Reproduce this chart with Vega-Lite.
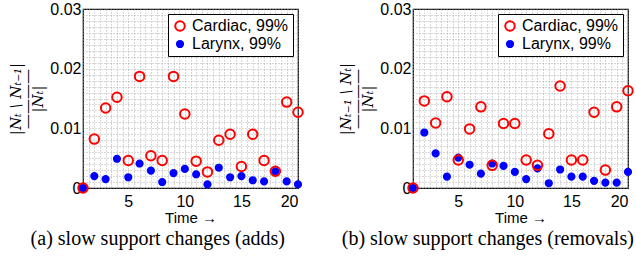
{
  "$schema": "https://vega.github.io/schema/vega-lite/v6.json",
  "padding": {"left": 8, "top": 0, "right": 0, "bottom": 0},
  "spacing": 30,
  "config": {
    "view": {"stroke": "black", "strokeWidth": 1.2},
    "font": "Liberation Sans",
    "axis": {
      "labelFont": "Liberation Sans", "labelFontSize": 16, "labelColor": "black",
      "titleFont": "Liberation Sans", "titleFontWeight": "normal", "titleColor": "black",
      "domain": false, "ticks": false,
      "grid": true, "gridColor": "#9a9a9a", "gridDash": [1, 2], "gridWidth": 0.8
    },
    "legend": {
      "orient": "top-right", "offset": 5, "strokeColor": "black", "fillColor": "white",
      "padding": 4, "labelFont": "Liberation Sans", "labelFontSize": 16, "labelColor": "black",
      "rowPadding": 1, "symbolStrokeWidth": 2, "title": null
    },
    "title": {"font": "Liberation Serif", "fontSize": 20, "fontWeight": "normal", "orient": "bottom", "anchor": "middle", "frame": "bounds", "offset": 4, "color": "black"}
  },
  "datasets": {
    "adds": [
      {"t": 1, "s": "Cardiac, 99%", "v": 0.0}, {"t": 2, "s": "Cardiac, 99%", "v": 0.0082}, {"t": 3, "s": "Cardiac, 99%", "v": 0.0134}, {"t": 4, "s": "Cardiac, 99%", "v": 0.0152}, {"t": 5, "s": "Cardiac, 99%", "v": 0.0046},
      {"t": 6, "s": "Cardiac, 99%", "v": 0.0187}, {"t": 7, "s": "Cardiac, 99%", "v": 0.0054}, {"t": 8, "s": "Cardiac, 99%", "v": 0.0046}, {"t": 9, "s": "Cardiac, 99%", "v": 0.0187}, {"t": 10, "s": "Cardiac, 99%", "v": 0.0124},
      {"t": 11, "s": "Cardiac, 99%", "v": 0.0045}, {"t": 12, "s": "Cardiac, 99%", "v": 0.0027}, {"t": 13, "s": "Cardiac, 99%", "v": 0.0080}, {"t": 14, "s": "Cardiac, 99%", "v": 0.0090}, {"t": 15, "s": "Cardiac, 99%", "v": 0.0036},
      {"t": 16, "s": "Cardiac, 99%", "v": 0.0090}, {"t": 17, "s": "Cardiac, 99%", "v": 0.0046}, {"t": 18, "s": "Cardiac, 99%", "v": 0.0028}, {"t": 19, "s": "Cardiac, 99%", "v": 0.0144}, {"t": 20, "s": "Cardiac, 99%", "v": 0.0127},
      {"t": 1, "s": "Larynx, 99%", "v": 0.0}, {"t": 2, "s": "Larynx, 99%", "v": 0.0020}, {"t": 3, "s": "Larynx, 99%", "v": 0.0015}, {"t": 4, "s": "Larynx, 99%", "v": 0.0049}, {"t": 5, "s": "Larynx, 99%", "v": 0.0018},
      {"t": 6, "s": "Larynx, 99%", "v": 0.0041}, {"t": 7, "s": "Larynx, 99%", "v": 0.0029}, {"t": 8, "s": "Larynx, 99%", "v": 0.0010}, {"t": 9, "s": "Larynx, 99%", "v": 0.0025}, {"t": 10, "s": "Larynx, 99%", "v": 0.0032},
      {"t": 11, "s": "Larynx, 99%", "v": 0.0023}, {"t": 12, "s": "Larynx, 99%", "v": 0.0006}, {"t": 13, "s": "Larynx, 99%", "v": 0.0034}, {"t": 14, "s": "Larynx, 99%", "v": 0.0018}, {"t": 15, "s": "Larynx, 99%", "v": 0.0020},
      {"t": 16, "s": "Larynx, 99%", "v": 0.0013}, {"t": 17, "s": "Larynx, 99%", "v": 0.0011}, {"t": 18, "s": "Larynx, 99%", "v": 0.0028}, {"t": 19, "s": "Larynx, 99%", "v": 0.0011}, {"t": 20, "s": "Larynx, 99%", "v": 0.0006}
    ],
    "removals": [
      {"t": 1, "s": "Cardiac, 99%", "v": 0.0}, {"t": 2, "s": "Cardiac, 99%", "v": 0.0146}, {"t": 3, "s": "Cardiac, 99%", "v": 0.0109}, {"t": 4, "s": "Cardiac, 99%", "v": 0.0153}, {"t": 5, "s": "Cardiac, 99%", "v": 0.0047},
      {"t": 6, "s": "Cardiac, 99%", "v": 0.0099}, {"t": 7, "s": "Cardiac, 99%", "v": 0.0136}, {"t": 8, "s": "Cardiac, 99%", "v": 0.0038}, {"t": 9, "s": "Cardiac, 99%", "v": 0.0108}, {"t": 10, "s": "Cardiac, 99%", "v": 0.0108},
      {"t": 11, "s": "Cardiac, 99%", "v": 0.0047}, {"t": 12, "s": "Cardiac, 99%", "v": 0.0038}, {"t": 13, "s": "Cardiac, 99%", "v": 0.0091}, {"t": 14, "s": "Cardiac, 99%", "v": 0.0171}, {"t": 15, "s": "Cardiac, 99%", "v": 0.0047},
      {"t": 16, "s": "Cardiac, 99%", "v": 0.0047}, {"t": 17, "s": "Cardiac, 99%", "v": 0.0127}, {"t": 18, "s": "Cardiac, 99%", "v": 0.0030}, {"t": 19, "s": "Cardiac, 99%", "v": 0.0136}, {"t": 20, "s": "Cardiac, 99%", "v": 0.0163},
      {"t": 1, "s": "Larynx, 99%", "v": 0.0}, {"t": 2, "s": "Larynx, 99%", "v": 0.0093}, {"t": 3, "s": "Larynx, 99%", "v": 0.0058}, {"t": 4, "s": "Larynx, 99%", "v": 0.0019}, {"t": 5, "s": "Larynx, 99%", "v": 0.0051},
      {"t": 6, "s": "Larynx, 99%", "v": 0.0039}, {"t": 7, "s": "Larynx, 99%", "v": 0.0024}, {"t": 8, "s": "Larynx, 99%", "v": 0.0041}, {"t": 9, "s": "Larynx, 99%", "v": 0.0037}, {"t": 10, "s": "Larynx, 99%", "v": 0.0027},
      {"t": 11, "s": "Larynx, 99%", "v": 0.0015}, {"t": 12, "s": "Larynx, 99%", "v": 0.0033}, {"t": 13, "s": "Larynx, 99%", "v": 0.0008}, {"t": 14, "s": "Larynx, 99%", "v": 0.0031}, {"t": 15, "s": "Larynx, 99%", "v": 0.0019},
      {"t": 16, "s": "Larynx, 99%", "v": 0.0019}, {"t": 17, "s": "Larynx, 99%", "v": 0.0012}, {"t": 18, "s": "Larynx, 99%", "v": 0.0009}, {"t": 19, "s": "Larynx, 99%", "v": 0.0009}, {"t": 20, "s": "Larynx, 99%", "v": 0.0027}
    ]
  },
  "resolve": {"legend": {"stroke": "independent", "fill": "independent", "size": "independent"}},
  "hconcat": [
    {
      "width": 215, "height": 179,
      "title": {"text": "(a) slow support changes (adds)"},
      "data": {"name": "adds"},
      "mark": {"type": "point", "filled": true, "opacity": 1, "strokeWidth": 2},
      "encoding": {
        "x": {"field": "t", "type": "quantitative", "scale": {"domain": [1, 20], "nice": false, "zero": false},
          "axis": {"values": [1,1.5,2,2.5,3,3.5,4,4.5,5,5.5,6,6.5,7,7.5,8,8.5,9,9.5,10,10.5,11,11.5,12,12.5,13,13.5,14,14.5,15,15.5,16,16.5,17,17.5,18,18.5,19,19.5,20],
            "labelExpr": "datum.value % 5 == 0 ? format(datum.value, 'd') : ''", "labelPadding": 5, "labelOverlap": false,
            "title": "Time →", "titleFontSize": 15, "titlePadding": 1}},
        "y": {"field": "v", "type": "quantitative", "scale": {"domain": [0, 0.03], "nice": false},
          "axis": {"values": [0,0.001,0.002,0.003,0.004,0.005,0.006,0.007,0.008,0.009,0.01,0.011,0.012,0.013,0.014,0.015,0.016,0.017,0.018,0.019,0.02,0.021,0.022,0.023,0.024,0.025,0.026,0.027,0.028,0.029,0.03],
            "labelExpr": "abs(datum.value*100 - round(datum.value*100)) < 1e-6 ? (datum.value == 0 ? '0' : format(datum.value, '.2f')) : ''",
            "labelPadding": 2, "labelOverlap": false,
            "title": ["|Nₜ \\ Nₜ₋₁|", "————", "|Nₜ|"], "titleFont": "DejaVu Serif", "titleFontStyle": "italic", "titleFontSize": 15, "titleLineHeight": 11, "titlePadding": 4}},
        "stroke": {"field": "s", "type": "nominal", "scale": {"domain": ["Cardiac, 99%", "Larynx, 99%"], "range": ["#ff0000", "#0000ff"]}},
        "fill": {"field": "s", "type": "nominal", "scale": {"domain": ["Cardiac, 99%", "Larynx, 99%"], "range": ["transparent", "#0000ff"]}},
        "size": {"field": "s", "type": "nominal", "scale": {"domain": ["Cardiac, 99%", "Larynx, 99%"], "range": [90, 38]}},
        "order": {"field": "s", "sort": "descending"}
      }
    },
    {
      "width": 215, "height": 179,
      "title": {"text": "(b) slow support changes (removals)"},
      "data": {"name": "removals"},
      "mark": {"type": "point", "filled": true, "opacity": 1, "strokeWidth": 2},
      "encoding": {
        "x": {"field": "t", "type": "quantitative", "scale": {"domain": [1, 20], "nice": false, "zero": false},
          "axis": {"values": [1,1.5,2,2.5,3,3.5,4,4.5,5,5.5,6,6.5,7,7.5,8,8.5,9,9.5,10,10.5,11,11.5,12,12.5,13,13.5,14,14.5,15,15.5,16,16.5,17,17.5,18,18.5,19,19.5,20],
            "labelExpr": "datum.value % 5 == 0 ? format(datum.value, 'd') : ''", "labelPadding": 5, "labelOverlap": false,
            "title": "Time →", "titleFontSize": 15, "titlePadding": 1}},
        "y": {"field": "v", "type": "quantitative", "scale": {"domain": [0, 0.03], "nice": false},
          "axis": {"values": [0,0.001,0.002,0.003,0.004,0.005,0.006,0.007,0.008,0.009,0.01,0.011,0.012,0.013,0.014,0.015,0.016,0.017,0.018,0.019,0.02,0.021,0.022,0.023,0.024,0.025,0.026,0.027,0.028,0.029,0.03],
            "labelExpr": "abs(datum.value*100 - round(datum.value*100)) < 1e-6 ? (datum.value == 0 ? '0' : format(datum.value, '.2f')) : ''",
            "labelPadding": 2, "labelOverlap": false,
            "title": ["|Nₜ₋₁ \\ Nₜ|", "————", "|Nₜ|"], "titleFont": "DejaVu Serif", "titleFontStyle": "italic", "titleFontSize": 15, "titleLineHeight": 11, "titlePadding": 4}},
        "stroke": {"field": "s", "type": "nominal", "scale": {"domain": ["Cardiac, 99%", "Larynx, 99%"], "range": ["#ff0000", "#0000ff"]}},
        "fill": {"field": "s", "type": "nominal", "scale": {"domain": ["Cardiac, 99%", "Larynx, 99%"], "range": ["transparent", "#0000ff"]}},
        "size": {"field": "s", "type": "nominal", "scale": {"domain": ["Cardiac, 99%", "Larynx, 99%"], "range": [90, 38]}},
        "order": {"field": "s", "sort": "descending"}
      }
    }
  ]
}
